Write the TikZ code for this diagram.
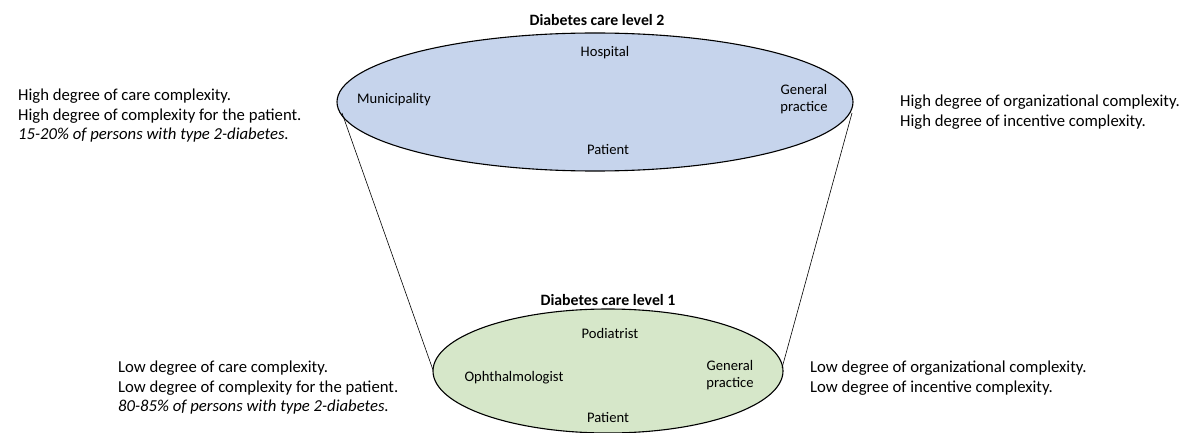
\documentclass[tikz,border=0pt]{standalone}
\usepackage{fontspec}
\setmainfont{Carlito}
\usetikzlibrary{shapes.geometric}
\definecolor{lvltwofill}{RGB}{198,212,236}
\definecolor{lvlonefill}{RGB}{214,231,201}
\tikzset{
  level/.style={ellipse, draw=black, line width=1.1pt, inner sep=0pt},
  title/.style={font=\fontsize{15.8}{18}\selectfont\bfseries, anchor=center},
  actor/.style={font=\fontsize{14.6}{17.5}\selectfont, align=center, anchor=center},
  note/.style={font=\fontsize{16.7}{19.5}\selectfont, align=left, anchor=north west, inner sep=0pt},
  funnel/.style={draw=black, line width=0.6pt}
}
\begin{document}
\begin{tikzpicture}[x=1pt, y=-1pt]
\useasboundingbox (0,0) rectangle (1185,433);

% upper level
\node[level, fill=lvltwofill, minimum width=516pt, minimum height=138pt] (lvl2) at (595,102) {};
\node[title] (t2) at (597,20) {Diabetes care level 2};
\node[actor] (hosp) at (605,53) {Hospital};
\node[actor] (muni) at (394,100) {Municipality};
\node[actor] (gp2) at (804,99) {General\\practice};
\node[actor] (pat2) at (608,150) {Patient};

% lower level
\node[level, fill=lvlonefill, minimum width=350pt, minimum height=124pt] (lvl1) at (608,371) {};
\node[title] (t1) at (608,300) {Diabetes care level 1};
\node[actor] (pod) at (610,333) {Podiatrist};
\node[actor] (oph) at (514,378) {Ophthalmologist};
\node[actor] (gp1) at (730,375) {General\\practice};
\node[actor] (pat1) at (608,418) {Patient};

% funnel sides
\coordinate (ul) at (342,113);
\coordinate (ur) at (852,113);
\coordinate (ll) at (433,370);
\coordinate (lr) at (782,368);
\draw[funnel] (ul) -- (ll);
\draw[funnel] (ur) -- (lr);

% side notes
\node[note] (n2l) at (18,89) {High degree of care complexity.\\High degree of complexity for the patient.\\\textit{15-20\% of persons with type 2-diabetes.}};
\node[note] (n2r) at (900,95) {High degree of organizational complexity.\\High degree of incentive complexity.};
\node[note] (n1l) at (118,361) {Low degree of care complexity.\\Low degree of complexity for the patient.\\\textit{80-85\% of persons with type 2-diabetes.}};
\node[note] (n1r) at (810,361) {Low degree of organizational complexity.\\Low degree of incentive complexity.};
\end{tikzpicture}
\end{document}
